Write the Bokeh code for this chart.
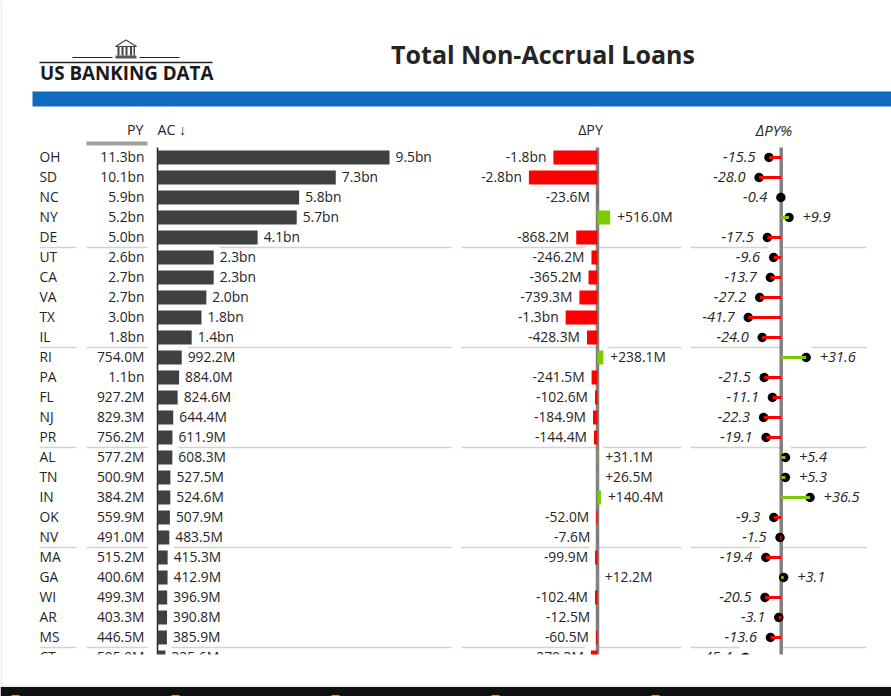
from bokeh.core.properties import value
from bokeh.embed import file_html
from bokeh.models import ColumnDataSource, Range1d
from bokeh.plotting import figure
from bokeh.resources import INLINE
import numpy as np

# values in millions, deltas
states = ["OH", "SD", "NC", "NY", "DE", "UT", "CA", "VA", "TX", "IL", "RI", "PA", "FL",
          "NJ", "PR", "AL", "TN", "IN", "OK", "NV", "MA", "GA", "WI", "AR", "MS", "CT"]
py = [11300, 10100, 5900, 5200, 5000, 2600, 2700, 2700, 3000, 1800, 754.0, 1100, 927.2,
      829.3, 756.2, 577.2, 500.9, 384.2, 559.9, 491.0, 515.2, 400.6, 499.3, 403.3, 446.5, 595.9]
ac = [9500, 7300, 5800, 5700, 4100, 2300, 2300, 2000, 1800, 1400, 992.2, 884.0, 824.6,
      644.4, 611.9, 608.3, 527.5, 524.6, 507.9, 483.5, 415.3, 412.9, 396.9, 390.8, 385.9, 325.6]
delta_py = [-1800, -2800, -23.6, 516.0, -868.2, -246.2, -365.2, -739.3, -1300, -428.3, 238.1, -241.5, -102.6,
            -184.9, -144.4, 31.1, 26.5, 140.4, -52.0, -7.6, -99.9, 12.2, -102.4, -12.5, -60.5, -270.3]
delta_pct = [-15.5, -28.0, -0.4, 9.9, -17.5, -9.6, -13.7, -27.2, -41.7, -24.0, 31.6, -21.5, -11.1,
             -22.3, -19.1, 5.4, 5.3, 36.5, -9.3, -1.5, -19.4, 3.1, -20.5, -3.1, -13.6, -45.4]
group_starts = ["UT", "RI", "AL", "MA", "CT"]

FONT = value("Open Sans")
TEXT = "#252423"
RED = "#ff0000"
GREEN = "#7ccb00"
W, H = 891, 696

# pixels per data unit and axis position of each column
AC_K, AC_X = 232 / 9500, 157
DELTA_K, DELTA_X = 24.5 / 1000, 597
PCT_K, PCT_X = 0.79, 780.7
ROW_H, ROW0 = 20, 157


def money(v, sign=False):
    s = f"{abs(v) / 1000:.1f}bn" if abs(v) >= 1000 else f"{abs(v):.1f}M"
    if v < 0:
        return "-" + s
    return "+" + s if sign else s


p = figure(width=W, height=H, x_range=Range1d(0, W), y_range=Range1d(H, 0),
           output_backend="svg", toolbar_location=None, min_border=0,
           margin=(0, 0, 0, 0), background_fill_color="white", border_fill_color="white")
p.axis.visible = False
p.grid.visible = False
p.outline_line_color = None
p.extra_x_ranges = {
    "ac": Range1d(-AC_X / AC_K, (W - AC_X) / AC_K),
    "delta": Range1d(-DELTA_X / DELTA_K, (W - DELTA_X) / DELTA_K),
    "pct": Range1d(-PCT_X / PCT_K, (W - PCT_X) / PCT_K),
}
p.extra_y_ranges = {"rows": Range1d((H - ROW0) / ROW_H, -ROW0 / ROW_H)}

rows = np.arange(len(states))
ac_a, d_a, pc_a = np.array(ac), np.array(delta_py), np.array(delta_pct)
sgn_d = np.sign(d_a)
sgn_p = np.sign(pc_a)
source = ColumnDataSource(dict(
    row=rows, state=states, ac=ac_a, delta=d_a, pct=pc_a, zero=np.zeros(len(rows)),
    py_txt=[money(v) for v in py], ac_txt=[money(v) for v in ac],
    d_txt=[money(v, True) for v in delta_py],
    p_txt=[f"{v:+.1f}" for v in delta_pct],
    d_col=[RED if v < 0 else GREEN for v in delta_py],
    p_col=[RED if v < 0 else GREEN for v in delta_pct],
    d_align=["right" if v < 0 else "left" for v in delta_py],
    p_align=["right" if v < 0 else "left" for v in delta_pct],
    d_off=sgn_d * 7, p_off=sgn_p * 13.5,
    ac_mask=ac_a + 6 / AC_K,
    d_mask=d_a + np.where(d_a < 0, -6, 5) / DELTA_K,
    p_mask=pc_a + sgn_p * 5.5 / PCT_K,
    mask_y=rows - 0.3,
    px_name=np.full(len(rows), 39.0), px_py=np.full(len(rows), 144.0),
))
R = dict(source=source, y_range_name="rows")

# group separators, then white masks that break them next to the row below
sep_rows = np.array([states.index(s) for s in group_starts]) - 0.5
for x0, x1 in [(39, 76), (86, 147), (AC_X, 451), (461, 681), (690, 866)]:
    p.segment(x0=x0, x1=x1, y0=sep_rows, y1=sep_rows, y_range_name="rows",
              line_color="#d2d2d2", line_width=1.5)
for col, rng in [("ac_mask", "ac"), ("d_mask", "delta"), ("p_mask", "pct")]:
    p.hbar(y="mask_y", left="zero", right=col, height=0.5, fill_color="white", line_color=None,
           x_range_name=rng, **R)

# axes of the three columns
top, bottom = -0.5, len(states) - 0.5
p.segment(x0=0, x1=0, y0=top, y1=bottom, x_range_name="ac", y_range_name="rows",
          line_color="#222222", line_width=1.5)
p.segment(x0=0, x1=0, y0=top, y1=bottom, x_range_name="delta", y_range_name="rows",
          line_color="#808080", line_width=3.5)
p.segment(x0=0, x1=0, y0=top, y1=bottom, x_range_name="pct", y_range_name="rows",
          line_color="#808080", line_width=3.5)

# AC bars
p.hbar(y="row", left="zero", right="ac", height=0.7, fill_color="#404040", line_color=None,
       x_range_name="ac", **R)
# delta bars
p.hbar(y="row", left="zero", right="delta", height=0.7, fill_color="d_col", line_color=None,
       x_range_name="delta", **R)
# lollipops
p.scatter(x="pct", y="row", size=9.5, marker="circle", fill_color="black", line_color=None,
          x_range_name="pct", **R)
p.segment(x0="zero", x1="pct", y0="row", y1="row", line_color="p_col", line_width=3,
          x_range_name="pct", **R)

txt = dict(text_font=FONT, text_font_size="13.8px", text_color=TEXT, text_baseline="middle", y_offset=-1)
p.text(x="px_name", y="row", text="state", text_align="left", **txt, **R)
p.text(x="px_py", y="row", text="py_txt", text_align="right", **txt, **R)
p.text(x="ac", y="row", text="ac_txt", text_align="left", x_offset=6, x_range_name="ac", **txt, **R)
p.text(x="delta", y="row", text="d_txt", text_align="d_align", x_offset="d_off",
       x_range_name="delta", **txt, **R)
p.text(x="pct", y="row", text="p_txt", text_align="p_align", x_offset="p_off",
       text_font_style="italic", x_range_name="pct",
       **{**txt, "text_font_size": "14.6px"}, **R)

# the visual is cut off under the CT row, page chrome below it
p.quad(left=0, right=W, top=654, bottom=684, fill_color="white", line_color=None)
p.quad(left=0, right=W, top=684, bottom=686.5, fill_color="#f0f0f0", line_color=None)
p.quad(left=0, right=W, top=686.5, bottom=H, fill_color="#111111", line_color=None)
p.quad(left=0, right=2, top=0, bottom=684, fill_color="#f0f0f0", line_color=None)
p.quad(left=[11, 171, 331, 491, 651], right=[19, 179, 339, 499, 659], top=694.5, bottom=H,
       fill_color="#d9a520", line_color=None)

# header band and column heads
p.quad(left=32, right=W, top=91, bottom=106, fill_color="#106bbf", line_color=None)
p.text(x=[542.5], y=[53.5], text=["Total Non-Accrual Loans"], text_align="center", text_baseline="middle",
       text_font=FONT, text_font_style="bold", text_font_size="25px", text_color=TEXT)
head = dict(text_font=FONT, text_font_size="14.2px", text_color=TEXT, text_baseline="middle")
p.text(x=[143], y=[129], text=["PY"], text_align="right", **head)
p.text(x=[157], y=[129], text=["AC ↓"], text_align="left", **head)
p.text(x=[590], y=[129], text=["ΔPY"], text_align="center", **head)
p.text(x=[773.5], y=[129], text=["ΔPY%"], text_align="center", text_font_style="italic",
       **{**head, "text_font_size": "15px"})
p.quad(left=86, right=147, top=141, bottom=145, fill_color="#a0a0a0", line_color=None)

# logo
p.segment(x0=[39, 72, 139], x1=[212, 112, 179], y0=[62, 57, 57], y1=[62, 57, 57],
          line_color="#222222", line_width=[1.5, 1.2, 1.2])
p.patch(x=[115, 125.5, 136], y=[46, 39.5, 46], fill_color="white", line_color="#444444", line_width=1.2)
p.quad(left=[117, 121, 125, 129.5, 133], right=[119, 123, 127, 131.5, 134.5], top=46, bottom=55,
       fill_color="#444444", line_color=None)
p.quad(left=[115], right=[136], top=[55], bottom=[58], fill_color="#555555", line_color=None)
p.text(x=[39.5], y=[72.5], text=["US BANKING DATA"], text_align="left", text_baseline="middle",
       text_font=FONT, text_font_style="bold", text_font_size="18.8px", text_color="#1a1a1a")

open("out.html", "w").write(file_html(p, INLINE))
